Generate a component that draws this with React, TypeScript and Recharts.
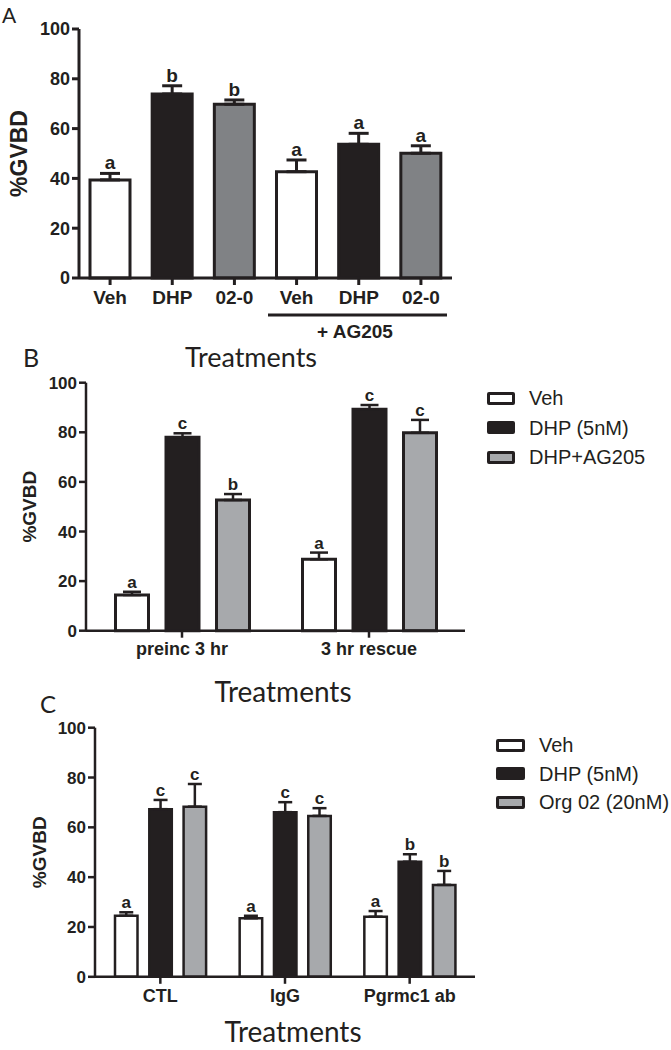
import React from 'react';
import { BarChart, Bar, XAxis, YAxis, ErrorBar, Cell, LabelList, Legend } from 'recharts';

const SANS = '"Liberation Sans", Arial, Helvetica, sans-serif';
const TITLE = 'Lato, "Open Sans", sans-serif';
const INK = '#231f20';
const WHITE = '#ffffff';
const GREY_MID = '#808285';
const GREY_LIGHT = '#a7a9ac';

// ---------- Panel A ----------
const aCategories = ['Veh', 'DHP', '02-0', 'Veh', 'DHP', '02-0'];
const aTreatment = ['veh', 'dhp', 'org', 'veh', 'dhp', 'org'];
const aValues = [39.4, 73.9, 69.8, 42.7, 53.7, 50.1];
const aErrors = [2.6, 3.3, 1.7, 4.7, 4.4, 3.0];
const aLetters = ['a', 'b', 'b', 'a', 'a', 'a'];

// ---------- Panel B ----------
const bGroups = ['preinc 3 hr', '3 hr rescue'];
const bSeriesNames = ['Veh', 'DHP (5nM)', 'DHP+AG205'];
const bVeh = [14.4, 28.8];
const bVehErr = [1.3, 2.7];
const bVehLetters = ['a', 'a'];
const bDhp = [78.0, 89.3];
const bDhpErr = [1.6, 1.7];
const bDhpLetters = ['c', 'c'];
const bAg = [52.7, 79.8];
const bAgErr = [2.4, 5.2];
const bAgLetters = ['b', 'c'];

// ---------- Panel C ----------
const cGroups = ['CTL', 'IgG', 'Pgrmc1 ab'];
const cSeriesNames = ['Veh', 'DHP (5nM)', 'Org 02 (20nM)'];
const cVeh = [24.5, 23.5, 24.1];
const cVehErr = [1.4, 1.0, 2.3];
const cVehLetters = ['a', 'a', 'a'];
const cDhp = [67.3, 66.1, 46.2];
const cDhpErr = [3.7, 4.0, 3.0];
const cDhpLetters = ['c', 'c', 'b'];
const cOrg = [68.3, 64.6, 36.9];
const cOrgErr = [9.1, 3.1, 5.6];
const cOrgLetters = ['c', 'c', 'b'];

const yTicks = [0, 20, 40, 60, 80, 100];

const fillA: Record<string, string> = { veh: WHITE, dhp: INK, org: GREY_MID };
const seriesFills = [WHITE, INK, GREY_LIGHT];

const dataA = aCategories.map((name, i) => ({
  name,
  kind: aTreatment[i],
  value: aValues[i],
  err: [0, aErrors[i]],
}));

const dataB = bGroups.map((name, i) => ({
  name,
  s0: bVeh[i], e0: [0, bVehErr[i]],
  s1: bDhp[i], e1: [0, bDhpErr[i]],
  s2: bAg[i], e2: [0, bAgErr[i]],
}));

const dataC = cGroups.map((name, i) => ({
  name,
  s0: cVeh[i], e0: [0, cVehErr[i]],
  s1: cDhp[i], e1: [0, cDhpErr[i]],
  s2: cOrg[i], e2: [0, cOrgErr[i]],
}));

function letterContent(errors: number[], letters: string[], fontSize: number) {
  return (props: any) => {
    const vb = props.viewBox || {};
    const x = props.x ?? vb.x;
    const y = props.y ?? vb.y;
    const width = props.width ?? vb.width;
    const height = props.height ?? vb.height;
    const value = Number(props.value);
    const i = props.index;
    if (x == null || y == null || !value || i == null) return null;
    const perUnit = Math.abs(height) / value;
    const top = Math.min(y, y + height) - errors[i] * perUnit;
    return (
      <text
        x={x + width / 2}
        y={top - 4}
        textAnchor="middle"
        fontFamily={SANS}
        fontWeight="bold"
        fontSize={fontSize}
        fill={INK}
      >
        {letters[i]}
      </text>
    );
  };
}

function yLabel(cx: number, fontSize: number) {
  return (props: any) => {
    const vb = props.viewBox || { y: 0, height: 0 };
    const cy = vb.y + vb.height / 2;
    return (
      <text
        x={cx}
        y={cy}
        transform={`rotate(-90 ${cx} ${cy})`}
        textAnchor="middle"
        dominantBaseline="central"
        fontFamily={SANS}
        fontWeight="bold"
        fontSize={fontSize}
        fill={INK}
      >
        %GVBD
      </text>
    );
  };
}

function legendContent(names: string[], squareW: number, rowH: number) {
  return () => (
    <div style={{ fontFamily: SANS, fontSize: 20, color: INK, lineHeight: 1 }}>
      {names.map((n, i) => (
        <div key={n} style={{ display: 'flex', alignItems: 'center', height: rowH }}>
          <span
            style={{
              display: 'inline-block',
              boxSizing: 'border-box',
              width: squareW,
              height: 13,
              border: `3px solid ${INK}`,
              borderRadius: 2,
              background: seriesFills[i],
              marginRight: 14,
            }}
          />
          <span style={{ whiteSpace: 'nowrap' }}>{n}</span>
        </div>
      ))}
    </div>
  );
}

const tickStyle = (size: number) => ({ fontFamily: SANS, fontWeight: 'bold', fontSize: size, fill: INK });

function PanelA() {
  return (
    <BarChart
      width={671}
      height={345}
      data={dataA}
      margin={{ top: 29, right: 219, bottom: 37, left: 0 }}
    >
      <XAxis
        dataKey="name"
        height={30}
        interval={0}
        tick={tickStyle(19)}
        tickSize={7}
        tickMargin={6}
        axisLine={{ stroke: INK, strokeWidth: 3 }}
        tickLine={{ stroke: INK, strokeWidth: 3 }}
      />
      <YAxis
        width={79}
        domain={[0, 100]}
        ticks={yTicks}
        interval={0}
        tick={tickStyle(18)}
        tickSize={7}
        tickMargin={2}
        axisLine={{ stroke: INK, strokeWidth: 3 }}
        tickLine={{ stroke: INK, strokeWidth: 3 }}
        label={{ value: '%GVBD', content: yLabel(19, 23) }}
      />
      <Bar dataKey="value" barSize={40} stroke={INK} strokeWidth={3} isAnimationActive={false}>
        {dataA.map((d, i) => (
          <Cell key={i} fill={fillA[d.kind]} />
        ))}
        <ErrorBar dataKey="err" width={10} stroke={INK} strokeWidth={3} direction="y" />
        <LabelList dataKey="value" content={letterContent(aErrors, aLetters, 19)} />
      </Bar>
    </BarChart>
  );
}

function PanelB() {
  const errs = [bVehErr, bDhpErr, bAgErr];
  const lets = [bVehLetters, bDhpLetters, bAgLetters];
  return (
    <BarChart
      width={671}
      height={330}
      data={dataB}
      margin={{ top: 42.7, right: 206, bottom: 9.3, left: 0 }}
      barSize={33}
      barGap={17.5}
    >
      <XAxis
        dataKey="name"
        height={30}
        interval={0}
        padding={{ left: 2.5, right: 2.5 }}
        tick={tickStyle(18)}
        tickSize={7}
        tickMargin={4.5}
        axisLine={{ stroke: INK, strokeWidth: 2.5 }}
        tickLine={{ stroke: INK, strokeWidth: 2.5 }}
      />
      <YAxis
        width={86}
        domain={[0, 100]}
        ticks={yTicks}
        interval={0}
        tick={tickStyle(17)}
        tickSize={7}
        tickMargin={2}
        axisLine={{ stroke: INK, strokeWidth: 2.5 }}
        tickLine={{ stroke: INK, strokeWidth: 2.5 }}
        label={{ value: '%GVBD', content: yLabel(30, 19) }}
      />
      <Legend
        layout="vertical"
        align="center"
        verticalAlign="middle"
        content={legendContent(bSeriesNames, 28, 29.5)}
        wrapperStyle={{ left: 487, top: 43.25, width: 184 }}
      />
      {[0, 1, 2].map((k) => (
        <Bar
          key={k}
          dataKey={`s${k}`}
          name={bSeriesNames[k]}
          fill={seriesFills[k]}
          stroke={INK}
          strokeWidth={3}
          isAnimationActive={false}
        >
          <ErrorBar dataKey={`e${k}`} width={9} stroke={INK} strokeWidth={2.5} direction="y" />
          <LabelList dataKey={`s${k}`} content={letterContent(errs[k], lets[k], 17)} />
        </Bar>
      ))}
    </BarChart>
  );
}

function PanelC() {
  const errs = [cVehErr, cDhpErr, cOrgErr];
  const lets = [cVehLetters, cDhpLetters, cOrgLetters];
  return (
    <BarChart
      width={671}
      height={360}
      data={dataC}
      margin={{ top: 37.7, right: 196, bottom: 43.2, left: 0 }}
      barSize={22.5}
      barGap={11.8}
    >
      <XAxis
        dataKey="name"
        height={30}
        interval={0}
        padding={{ left: 3, right: 3 }}
        tick={tickStyle(18)}
        tickSize={7}
        tickMargin={5}
        axisLine={{ stroke: INK, strokeWidth: 2.5 }}
        tickLine={{ stroke: INK, strokeWidth: 2.5 }}
      />
      <YAxis
        width={95}
        domain={[0, 100]}
        ticks={yTicks}
        interval={0}
        tick={tickStyle(17)}
        tickSize={7}
        tickMargin={2}
        axisLine={{ stroke: INK, strokeWidth: 2.5 }}
        tickLine={{ stroke: INK, strokeWidth: 2.5 }}
        label={{ value: '%GVBD', content: yLabel(39.5, 19) }}
      />
      <Legend
        layout="vertical"
        align="center"
        verticalAlign="middle"
        content={legendContent(cSeriesNames, 29, 28.5)}
        wrapperStyle={{ left: 496, top: 40.75, width: 175 }}
      />
      {[0, 1, 2].map((k) => (
        <Bar
          key={k}
          dataKey={`s${k}`}
          name={cSeriesNames[k]}
          fill={seriesFills[k]}
          stroke={INK}
          strokeWidth={2.5}
          isAnimationActive={false}
        >
          <ErrorBar dataKey={`e${k}`} width={7} stroke={INK} strokeWidth={2.5} direction="y" />
          <LabelList dataKey={`s${k}`} content={letterContent(errs[k], lets[k], 17)} />
        </Bar>
      ))}
    </BarChart>
  );
}

export default function App() {
  return (
    <div
      style={{
        position: 'absolute',
        left: 0,
        top: 0,
        width: 671,
        height: 1050,
        overflow: 'hidden',
        background: '#ffffff',
      }}
    >
      <div style={{ position: 'absolute', left: 0, top: 0 }}>
        <PanelA />
      </div>
      <div style={{ position: 'absolute', left: 0, top: 340 }}>
        <PanelB />
      </div>
      <div style={{ position: 'absolute', left: 0, top: 690 }}>
        <PanelC />
      </div>
      <svg
        width={671}
        height={1050}
        style={{ position: 'absolute', left: 0, top: 0, pointerEvents: 'none' }}
      >
        <text x={2} y={23} fontFamily={TITLE} fontSize={21} fill={INK}>A</text>
        <line x1={268} x2={447} y1={315} y2={315} stroke={INK} strokeWidth={3} />
        <text x={355} y={338} textAnchor="middle" fontFamily={SANS} fontWeight="bold" fontSize={19} fill={INK}>
          + AG205
        </text>
        <text x={251} y={367} textAnchor="middle" fontFamily={TITLE} fontSize={27} fill={INK}>Treatments</text>
        <text x={23} y={367} fontFamily={TITLE} fontSize={25} fill={INK}>B</text>
        <text x={283} y={702} textAnchor="middle" fontFamily={TITLE} fontSize={28} fill={INK}>Treatments</text>
        <text x={40} y={713} fontFamily={TITLE} fontSize={24} fill={INK}>C</text>
        <text x={293} y={1042} textAnchor="middle" fontFamily={TITLE} fontSize={28} fill={INK}>Treatments</text>
      </svg>
    </div>
  );
}
